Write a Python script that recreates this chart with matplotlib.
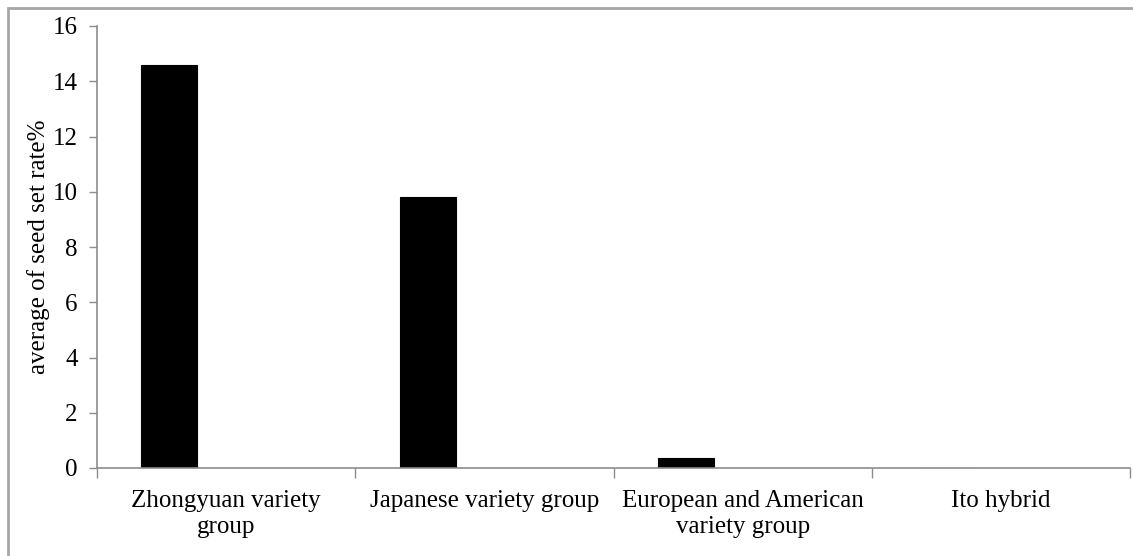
import matplotlib
matplotlib.use('Agg')
import matplotlib.pyplot as plt
from matplotlib.patches import Rectangle

plt.rcParams['font.family'] = ['Liberation Serif', 'DejaVu Serif']

# data
categories = ['Zhongyuan variety\ngroup', 'Japanese variety group',
              'European and American\nvariety group', 'Ito hybrid']
seed_set_rate = [14.6, 9.8, 0.38, 0.0]
y_ticks = [0, 2, 4, 6, 8, 10, 12, 14, 16]

fig = plt.figure(figsize=(11.33, 5.56), dpi=100)

# outer chart border (only top/left visible in the original crop)
fig.patches.append(Rectangle((7.5 / 1133, -0.1), 1.2, (556 - 7.5) / 556 + 0.1,
                             transform=fig.transFigure, fill=False,
                             edgecolor='#a6a6a6', linewidth=2.0, zorder=0))

ax = fig.add_axes([97 / 1133, 88 / 556, 1033 / 1133, 442 / 556])

xpos = list(range(len(categories)))
bar_x = [p - 0.22 for p in xpos]
ax.bar(bar_x, seed_set_rate, width=0.217, color='black', edgecolor='black', linewidth=0.8)

ax.set_xlim(-0.5, len(categories) - 0.5)
ax.set_ylim(0, 16)
ax.set_yticks(y_ticks)
ax.tick_params(axis='y', direction='out', length=6, width=1, color='#8c8c8c',
               labelsize=18, pad=8)

# category labels centred, tick marks at category boundaries
ax.set_xticks(xpos)
ax.set_xticklabels(categories, fontsize=18, linespacing=1.25)
ax.tick_params(axis='x', which='major', length=0, pad=16)
ax.set_xticks([p - 0.5 for p in range(len(categories) + 1)], minor=True)
ax.tick_params(axis='x', which='minor', direction='out', length=7, width=1, color='#8c8c8c')

for side in ['top', 'right']:
    ax.spines[side].set_visible(False)
for side in ['left', 'bottom']:
    ax.spines[side].set_color('#8c8c8c')
    ax.spines[side].set_linewidth(1.2)

ax.set_ylabel('average of seed set rate%', fontsize=18, labelpad=2)

fig.savefig('out.png', dpi=100)
